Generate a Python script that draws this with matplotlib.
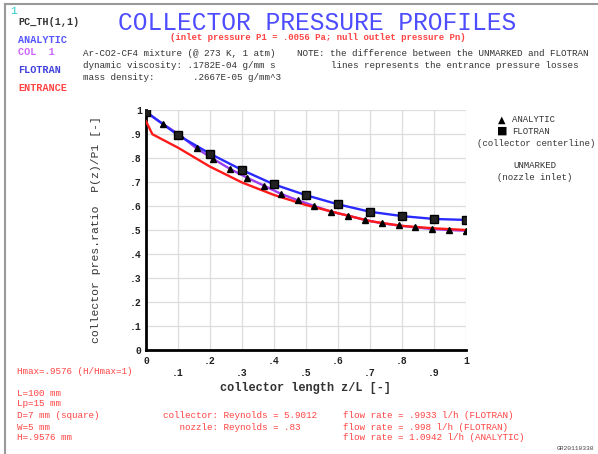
import numpy as np
import matplotlib
matplotlib.use('Agg')
import matplotlib.pyplot as plt
from matplotlib.lines import Line2D

# analytic solution (triangles, COL 1 purple line)
z_ana = np.arange(20) / 19.0
p_ana = [0.99, 0.942, 0.896, 0.84, 0.796, 0.754, 0.718, 0.685, 0.651, 0.624,
         0.600, 0.576, 0.560, 0.542, 0.528, 0.519, 0.511, 0.504, 0.500, 0.497]

# FLOTRAN collector centerline (squares)
z_flo = [0.0, 0.1, 0.2, 0.3, 0.4, 0.5, 0.6, 0.7, 0.8, 0.9, 1.0]
p_flo = [0.993, 0.895, 0.818, 0.750, 0.690, 0.645, 0.607, 0.576, 0.558, 0.546, 0.542]

# nozzle inlet / entrance (unmarked)
z_ent = [0.0, 0.02, 0.1, 0.2, 0.3, 0.4, 0.5, 0.6, 0.7, 0.8, 0.9, 1.0]
p_ent = [0.953, 0.899, 0.843, 0.764, 0.698, 0.646, 0.604, 0.570, 0.537, 0.517, 0.507, 0.500]

xticks = [0, .1, .2, .3, .4, .5, .6, .7, .8, .9, 1]
xtick_labels = ['0', '.1', '.2', '.3', '.4', '.5', '.6', '.7', '.8', '.9', '1']
yticks = [0, .1, .2, .3, .4, .5, .6, .7, .8, .9, 1]
ytick_labels = ['0', '.1', '.2', '.3', '.4', '.5', '.6', '.7', '.8', '.9', '1']

mono = 'Liberation Mono'
red = '#ff4444'
blue = '#2a2aff'
purple = '#9a3cf0'
W, H = 598, 454

fig = plt.figure(figsize=(W / 100, H / 100), dpi=100)
ax = fig.add_axes([146 / W, 1 - 350 / H, 320 / W, 240 / H])

ax.plot(z_ana, p_ana, color=purple, lw=1.7, zorder=3)
ax.plot(z_ent, p_ent, color='#ff1a1a', lw=1.7, zorder=4)
ax.plot(z_flo, p_flo, color=blue, lw=1.7, zorder=5)
ax.plot(z_ana, p_ana, ls='none', marker='^', ms=5, color='black', zorder=6)
ax.plot(z_flo, p_flo, ls='none', marker='s', ms=6, color='black', mfc='#222222', zorder=7)

ax.set_xlim(0, 1)
ax.set_ylim(0, 1)
ax.set_xticks(xticks)
ax.set_xticklabels([])
ax.set_yticks(yticks)
ax.set_yticklabels(ytick_labels, fontfamily=mono, fontsize=7, fontweight='bold', color='#222222')
ax.tick_params(length=0, pad=3)
ax.grid(True, color='#dddddd', lw=0.9)
ax.spines['top'].set_visible(False)
ax.spines['right'].set_visible(False)
ax.spines['left'].set_linewidth(2)
ax.spines['bottom'].set_linewidth(2)
ax.set_axisbelow(True)

# staggered x tick labels
for i, (xv, lab) in enumerate(zip(xticks, xtick_labels)):
    yy = -0.045 if i % 2 == 0 else -0.095
    ax.text(xv, yy, lab, transform=ax.transAxes, ha='center', va='center',
            fontfamily=mono, fontsize=7, fontweight='bold', color='#222222')

ax.set_xlabel('collector length z/L [-]', fontfamily=mono, fontsize=8.6,
              fontweight='bold', color='#333333', labelpad=20)
ax.set_ylabel('collector pres.ratio  P(z)/P1 [-]', fontfamily=mono, fontsize=8.2,
              color='#333333', labelpad=21)


def ftext(x, y, s, **kw):
    kw.setdefault('fontfamily', mono)
    kw.setdefault('fontsize', 6.7)
    kw.setdefault('va', 'center')
    fig.text(x / W, 1 - y / H, s, **kw)


# frame
fig.add_artist(Line2D([5 / W, 5 / W], [0, 1 - 4 / H], color='#999999', lw=1.5))
fig.add_artist(Line2D([5 / W, 1], [1 - 4 / H, 1 - 4 / H], color='#999999', lw=1.5))

ftext(10, 11, '1', color='#22cccc', fontsize=8)
ftext(18, 22, 'PC_TH(1,1)', color='#333333', fontweight='bold', fontsize=7.3)
ftext(18, 40, 'ANALYTIC', color='#5555ff', fontweight='bold', fontsize=7.3)
ftext(18, 52, 'COL  1', color='#cc66ff', fontweight='bold', fontsize=7.3)
ftext(18, 70, 'FLOTRAN', color='#4040dd', fontweight='bold', fontsize=7.3)
ftext(18, 88, 'ENTRANCE', color=red, fontweight='bold', fontsize=7.3)

ftext(317, 23, 'COLLECTOR PRESSURE PROFILES', color='#4d4dff',
      fontfamily='Liberation Mono', fontsize=17.7, ha='center')
ftext(318, 38, '(inlet pressure P1 = .0056 Pa; null outlet pressure Pn)',
      color=red, ha='center', fontweight='bold', fontsize=6.5)

ftext(83, 54, 'Ar-CO2-CF4 mixture (@ 273 K, 1 atm)', color='#333333')
ftext(83, 66, 'dynamic viscosity: .1782E-04 g/mm s', color='#333333')
ftext(83, 78, 'mass density:       .2667E-05 g/mm^3', color='#333333')
ftext(297, 54, 'NOTE: the difference between the UNMARKED and FLOTRAN', color='#333333')
ftext(331, 66, 'lines represents the entrance pressure losses', color='#333333')

# legend
fig.text(502 / W, 1 - 120 / H, '\u25b2', fontsize=7, va='center', ha='center', color='black')
fig.text(502 / W, 1 - 131 / H, '\u25a0', fontsize=8, va='center', ha='center', color='black')
ftext(512, 120, 'ANALYTIC', color='#333333', fontsize=6.5)
ftext(512, 131, 'FLOTRAN', color='#333333', fontsize=6.5)
ftext(536, 143, '(collector centerline)', color='#333333', ha='center', fontsize=6.5)
ftext(535, 166, 'UNMARKED', color='#333333', ha='center', fontsize=6.5)
ftext(535, 177, '(nozzle inlet)', color='#333333', ha='center', fontsize=6.5)

ftext(17, 372, 'Hmax=.9576 (H/Hmax=1)', color=red)
ftext(17, 393, 'L=100 mm', color=red)
ftext(17, 404, 'Lp=15 mm', color=red)
ftext(17, 416, 'D=7 mm (square)', color=red)
ftext(17, 427, 'W=5 mm', color=red)
ftext(17, 438, 'H=.9576 mm', color=red)

ftext(163, 416, 'collector: Reynolds = 5.9012', color=red)
ftext(163, 427, '   nozzle: Reynolds = .83', color=red)
ftext(343, 416, 'flow rate = .9933 l/h (FLOTRAN)', color=red)
ftext(343, 427, 'flow rate = .998 l/h (FLOTRAN)', color=red)
ftext(343, 438, 'flow rate = 1.0942 l/h (ANALYTIC)', color=red)
ftext(557, 448, 'GR20110330', color='#444444', fontsize=4.5)

fig.savefig('out.png', dpi=100)
